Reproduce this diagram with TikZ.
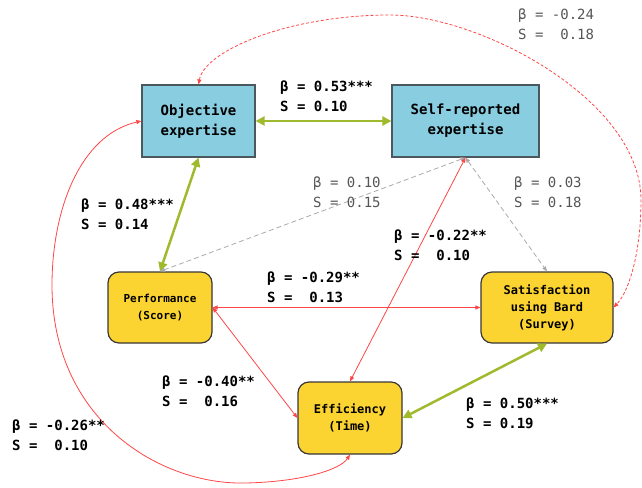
\documentclass[tikz,border=0pt]{standalone}
\usepackage{fontspec}
\setmonofont{DejaVu Sans Mono}
\usetikzlibrary{arrows.meta}
\definecolor{boxblue}{RGB}{137,205,224}
\definecolor{boxyellow}{RGB}{252,212,50}
\definecolor{bluerim}{RGB}{75,88,94}
\definecolor{yellowrim}{RGB}{55,55,55}
\definecolor{pathgreen}{RGB}{160,186,45}
\definecolor{pathred}{RGB}{255,70,70}
\definecolor{pathgray}{RGB}{170,170,170}
\definecolor{coefgray}{RGB}{85,85,85}
\begin{document}
\begin{tikzpicture}[x=1pt, y=-1pt,
    bluebox/.style={draw=bluerim, line width=1.2pt, fill=boxblue, minimum height=72pt, inner sep=0pt, align=center, font=\ttfamily\bfseries\fontsize{14}{20}\selectfont},
    yellowbox/.style={draw=yellowrim, line width=1.2pt, fill=boxyellow, rounded corners=11pt, minimum height=71pt, inner sep=0pt, align=center, font=\ttfamily\bfseries\fontsize{12}{17}\selectfont},
    coef/.style={anchor=west, align=left, inner sep=0pt, font=\ttfamily\bfseries\fontsize{14}{20}\selectfont},
    coefns/.style={coef, text=coefgray, font=\ttfamily\fontsize{14}{20}\selectfont},
    greenpath/.style={draw=pathgreen, line width=2.5pt, {Triangle[length=9pt,width=9pt]}-{Triangle[length=9pt,width=9pt]}},
    redpath/.style={draw=pathred, line width=0.8pt, {Triangle[length=5pt,width=4pt]}-{Triangle[length=5pt,width=4pt]}},
    graypath/.style={draw=pathgray, line width=0.8pt, dash pattern=on 5pt off 3pt, {Triangle[length=5pt,width=4pt]}-{Triangle[length=5pt,width=4pt]}},
    reddashed/.style={redpath, dash pattern=on 3pt off 2pt}]
    \useasboundingbox (0, 0) rectangle (642, 487) ;

    \node[bluebox, minimum width=113pt] (obj) at (198.5, 121) {Objective\\expertise} ;
    \node[bluebox, minimum width=147pt] (self) at (465.5, 121) {Self-reported\\expertise} ;
    \node[yellowbox, minimum width=104pt, font=\ttfamily\bfseries\fontsize{11}{17}\selectfont] (perf) at (160, 307.5) {Performance\\(Score)} ;
    \node[yellowbox, minimum width=132pt] (sat) at (547, 307.5) {Satisfaction\\using Bard\\(Survey)} ;
    \node[yellowbox, minimum width=104pt, minimum height=72pt] (eff) at (350, 418) {Efficiency\\(Time)} ;

    \draw[greenpath] (obj) -- (self) ;
    \draw[greenpath] (obj.south) -- (perf.north) ;
    \draw[greenpath] (sat.south) -- (eff.east) ;
    \draw[graypath] (self.south) -- (perf.north) ;
    \draw[graypath] (self.south) -- (sat.north) ;
    \draw[redpath] (self.south) -- (eff.north) ;
    \draw[redpath] (perf.east) -- (sat.west) ;
    \draw[redpath] (perf.east) -- (eff.west) ;
    \draw[redpath] (obj.west) .. controls (80, 135) and (52, 210) .. (52, 285)
        .. controls (52, 420) and (160, 485) .. (245, 483)
        .. controls (300, 482) and (340, 470) .. (eff.south) ;
    \draw[reddashed] (obj.north) .. controls (205, 50) and (290, 15) .. (390, 15)
        .. controls (480, 15) and (641, 100) .. (641, 200)
        .. controls (641, 250) and (630, 290) .. (sat.east) ;

    \node[coef] (b53) at (280, 96) {β = 0.53***\\S = 0.10} ;
    \node[coef] (b48) at (81, 214) {β = 0.48***\\S = 0.14} ;
    \node[coefns] (b10) at (313, 192) {β = 0.10\\S = 0.15} ;
    \node[coefns] (b03) at (514, 192) {β = 0.03\\S = 0.18} ;
    \node[coef] (b22) at (394, 245) {β = -0.22**\\S =\ \ 0.10} ;
    \node[coef] (b29) at (267, 287) {β = -0.29**\\S =\ \ 0.13} ;
    \node[coef] (b40) at (162, 391) {β = -0.40**\\S =\ \ 0.16} ;
    \node[coef] (b26) at (12, 435) {β = -0.26**\\S =\ \ 0.10} ;
    \node[coef] (b50) at (466, 413) {β = 0.50***\\S = 0.19} ;
    \node[coefns] (b24) at (518, 24) {β = -0.24\\S =\ \ 0.18} ;
  \end{tikzpicture}
\end{document}
